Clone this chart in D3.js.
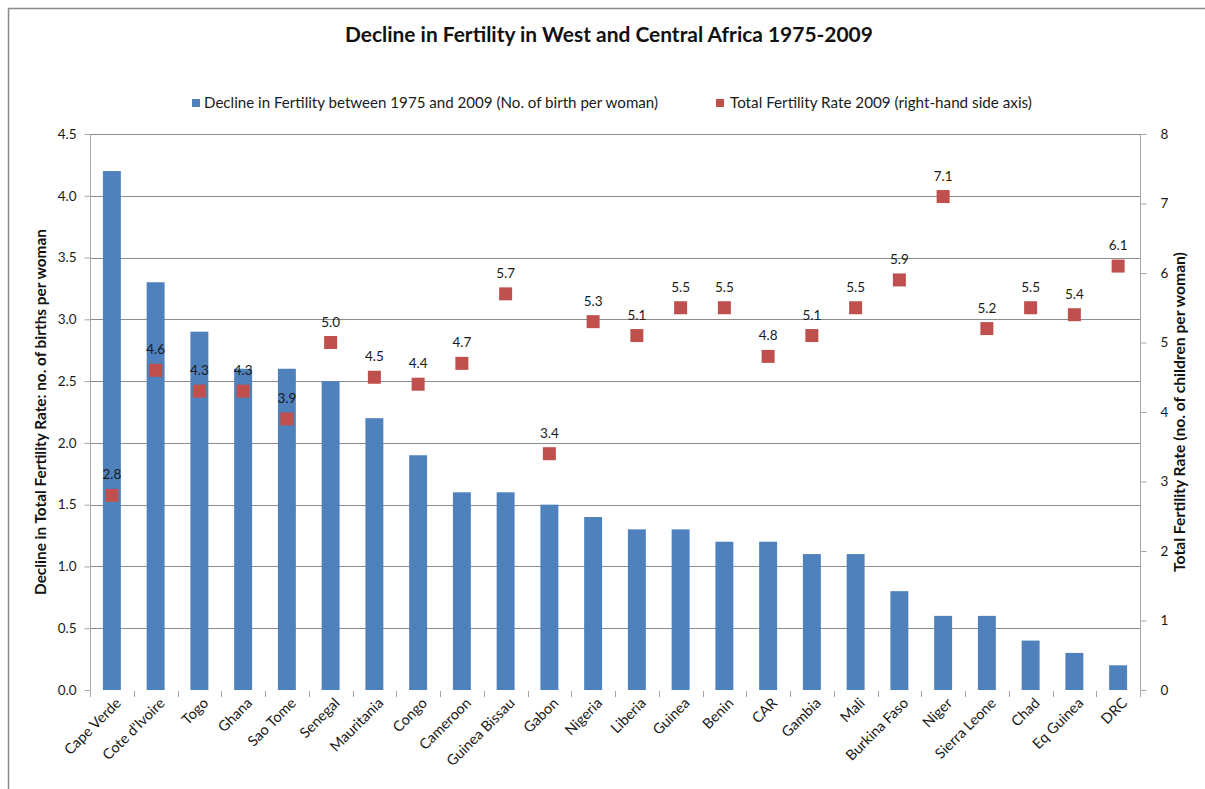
<!DOCTYPE html>
<html>
<head>
<meta charset="utf-8">
<script src="https://cdnjs.cloudflare.com/ajax/libs/d3/7.8.5/d3.min.js"></script>
<style>
  html, body { margin: 0; padding: 0; background: #fff; }
  svg { display: block; font-family: Lato, "Open Sans", sans-serif; }
</style>
</head>
<body>
<svg id="chart" width="1205" height="789"></svg>
<script>
// Countries, ordered by the size of their fertility decline
const countries = ["Cape Verde", "Cote d'Ivoire", "Togo", "Ghana", "Sao Tome", "Senegal",
  "Mauritania", "Congo", "Cameroon", "Guinea Bissau", "Gabon", "Nigeria", "Liberia",
  "Guinea", "Benin", "CAR", "Gambia", "Mali", "Burkina Faso", "Niger", "Sierra Leone",
  "Chad", "Eq Guinea", "DRC"];

// Decline in total fertility 1975-2009 (births per woman), left axis
const declineValues = [4.2, 3.3, 2.9, 2.6, 2.6, 2.5, 2.2, 1.9, 1.6, 1.6, 1.5, 1.4, 1.3,
  1.3, 1.2, 1.2, 1.1, 1.1, 0.8, 0.6, 0.6, 0.4, 0.3, 0.2];

// Total fertility rate 2009 (children per woman), right axis
const tfrValues = [2.8, 4.6, 4.3, 4.3, 3.9, 5.0, 4.5, 4.4, 4.7, 5.7, 3.4, 5.3, 5.1,
  5.5, 5.5, 4.8, 5.1, 5.5, 5.9, 7.1, 5.2, 5.5, 5.4, 6.1];

const leftTicks = [0, 0.5, 1.0, 1.5, 2.0, 2.5, 3.0, 3.5, 4.0, 4.5];
const rightTicks = [0, 1, 2, 3, 4, 5, 6, 7, 8];

const titleText = "Decline in Fertility in West and Central Africa 1975-2009";
const legendLabels = ["Decline in Fertility between 1975 and 2009 (No. of birth per woman)",
  "Total Fertility Rate 2009 (right-hand side axis)"];
const leftAxisTitle = "Decline in Total Fertility Rate: no. of births per woman";
const rightAxisTitle = "Total Fertility Rate (no. of children per woman)";

const barColor = "#4F81BD";
const markerColor = "#C0504D";
const gridColor = "#8C8C8C";
const textColor = "#1a1a1a";

const svg = d3.select("#chart");
const plot = { left: 90, right: 1140, top: 134, bottom: 690 };

// Scale text so that it spans a given width
function fitWidth(sel, target) {
  sel.each(function () {
    const len = this.getComputedTextLength();
    const fs = parseFloat(d3.select(this).attr("font-size"));
    d3.select(this).attr("font-size", (fs * target / len).toFixed(2));
  });
}

// Outer frame
svg.append("rect")
  .attr("x", 8.5).attr("y", 8.5).attr("width", 1300).attr("height", 900)
  .attr("fill", "none").attr("stroke", "#8a8a8a").attr("stroke-width", 1.5);

const x = d3.scaleBand().domain(countries).range([plot.left, plot.right]).paddingInner(0.59).paddingOuter(0.295);
const band = d3.scaleBand().domain(countries).range([plot.left, plot.right]);
const yLeft = d3.scaleLinear().domain([0, 4.5]).range([plot.bottom, plot.top]);
const yRight = d3.scaleLinear().domain([0, 8]).range([plot.bottom, plot.top]);

// Horizontal gridlines on the left-axis ticks
svg.append("g").selectAll("line").data(leftTicks.filter(d => d > 0)).join("line")
  .attr("x1", plot.left).attr("x2", plot.right)
  .attr("y1", d => Math.round(yLeft(d)) + 0.5).attr("y2", d => Math.round(yLeft(d)) + 0.5)
  .attr("stroke", gridColor).attr("stroke-width", 1);

// Left axis
const gLeft = svg.append("g").attr("transform", `translate(${plot.left + 0.5},0)`)
  .call(d3.axisLeft(yLeft).tickValues(leftTicks).tickFormat(d3.format(".1f")).tickSize(6).tickPadding(8));
// Right axis
const gRight = svg.append("g").attr("transform", `translate(${plot.right + 0.5},0)`)
  .call(d3.axisRight(yRight).tickValues(rightTicks).tickFormat(d3.format("d")).tickSize(6).tickPadding(14));
[gLeft, gRight].forEach(g => {
  g.select(".domain").attr("stroke", "#a6a6a6").attr("d", `M0,${plot.top}V${plot.bottom}`);
  g.selectAll(".tick line").attr("stroke", "#a6a6a6");
  g.selectAll(".tick text").attr("font-size", 13.5).attr("fill", textColor)
    .attr("font-family", "Lato, sans-serif");
});

// Category ticks below the baseline
svg.append("g").selectAll("line").data(d3.range(countries.length + 1)).join("line")
  .attr("x1", i => Math.round(plot.left + i * band.step()) + 0.5)
  .attr("x2", i => Math.round(plot.left + i * band.step()) + 0.5)
  .attr("y1", plot.bottom + 1).attr("y2", plot.bottom + 7)
  .attr("stroke", "#a6a6a6");

// Bars
svg.append("g").selectAll("rect").data(countries).join("rect")
  .attr("x", (d) => x(d))
  .attr("width", x.bandwidth())
  .attr("y", (d, i) => yLeft(declineValues[i]))
  .attr("height", (d, i) => plot.bottom - yLeft(declineValues[i]))
  .attr("fill", barColor);

// Square markers for 2009 fertility
const ms = 13;
svg.append("g").selectAll("rect").data(countries).join("rect")
  .attr("x", d => band(d) + band.bandwidth() / 2 - ms / 2)
  .attr("y", (d, i) => yRight(tfrValues[i]) - ms / 2)
  .attr("width", ms).attr("height", ms)
  .attr("fill", markerColor);

// Value labels above markers
svg.append("g").selectAll("text").data(countries).join("text")
  .attr("x", d => band(d) + band.bandwidth() / 2)
  .attr("y", (d, i) => yRight(tfrValues[i]) - 16)
  .attr("text-anchor", "middle")
  .attr("font-size", 13.5).attr("fill", textColor)
  .text((d, i) => d3.format(".1f")(tfrValues[i]));

// Rotated category labels
svg.append("g").selectAll("text").data(countries).join("text")
  .attr("transform", d => `translate(${band(d) + band.bandwidth() / 2 + 10},${plot.bottom + 14}) rotate(-45)`)
  .attr("text-anchor", "end")
  .attr("font-size", 14.5).attr("fill", textColor)
  .text(d => d);

// Title
svg.append("text")
  .attr("x", 345).attr("y", 42)
  .attr("font-size", 19).attr("font-weight", "bold").attr("fill", "#111")
  .text(titleText)
  .call(fitWidth, 528);

// Legend
const legend = svg.append("g");
legend.append("rect").attr("x", 192).attr("y", 99).attr("width", 8).attr("height", 8).attr("fill", barColor);
legend.append("text").attr("x", 204).attr("y", 108).attr("font-size", 13).attr("fill", textColor)
  .text(legendLabels[0]).call(fitWidth, 454);
legend.append("rect").attr("x", 716).attr("y", 99).attr("width", 8).attr("height", 8).attr("fill", markerColor);
legend.append("text").attr("x", 730).attr("y", 108).attr("font-size", 13).attr("fill", textColor)
  .text(legendLabels[1]).call(fitWidth, 302);

// Axis titles
const midY = (plot.top + plot.bottom) / 2;
svg.append("text")
  .attr("transform", `translate(46,${midY}) rotate(-90)`)
  .attr("text-anchor", "middle").attr("font-size", 12.5).attr("font-weight", "bold").attr("fill", "#111")
  .text(leftAxisTitle).call(fitWidth, 366);
svg.append("text")
  .attr("transform", `translate(1185,${midY}) rotate(-90)`)
  .attr("text-anchor", "middle").attr("font-size", 12.5).attr("font-weight", "bold").attr("fill", "#111")
  .text(rightAxisTitle).call(fitWidth, 320);
</script>
</body>
</html>
